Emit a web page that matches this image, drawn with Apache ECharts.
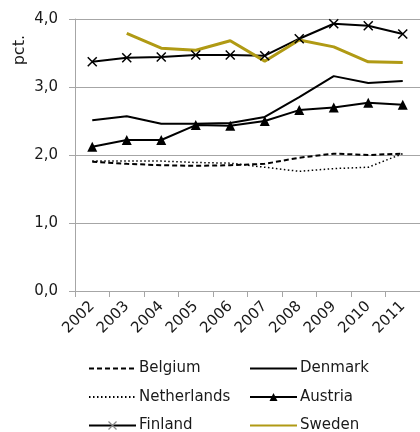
<!DOCTYPE html>
<html>
<head>
<meta charset="utf-8">
<script src="https://cdn.jsdelivr.net/npm/echarts@6/dist/echarts.min.js"></script>
<style>
  html, body { margin: 0; padding: 0; background: #fff; }
  #chart { width: 420px; height: 432px; }
</style>
</head>
<body>
<div id="chart"></div>
<script>
// år og værdier
const years = ['2002', '2003', '2004', '2005', '2006', '2007', '2008', '2009', '2010', '2011'];
const belgium = [1.90, 1.87, 1.85, 1.84, 1.85, 1.87, 1.96, 2.02, 2.00, 2.02];
const denmark = [2.51, 2.57, 2.46, 2.46, 2.47, 2.56, 2.85, 3.16, 3.06, 3.09];
const netherlands = [1.91, 1.91, 1.91, 1.89, 1.88, 1.82, 1.76, 1.80, 1.82, 2.02];
const austria = [2.12, 2.22, 2.22, 2.44, 2.43, 2.50, 2.66, 2.70, 2.77, 2.74];
const finland = [3.37, 3.43, 3.44, 3.47, 3.47, 3.46, 3.71, 3.93, 3.90, 3.78];
const sweden = [null, 3.79, 3.57, 3.54, 3.68, 3.38, 3.69, 3.59, 3.37, 3.36];
const yTicks = [0, 1, 2, 3, 4];

const font = 'DejaVu Sans, Verdana, sans-serif';
const xMark = 'path://M0,0L10,10M10,0L0,10';

const chart = echarts.init(document.getElementById('chart'));

function line(name, data, extra) {
    return Object.assign({
        name: name,
        type: 'line',
        data: data,
        symbol: 'none',
        connectNulls: false,
        color: '#000',
        lineStyle: { color: '#000', width: 2 }
    }, extra);
}

// legend-ikoner: kun linje, undtagen Austria/Finland
const noMark = { opacity: 0 };
const legendText = { color: '#1a1a1a', fontSize: 15, fontFamily: font, padding: [0, 0, 0, -2] };

const option = {
    animation: false,
    grid: { left: 75, right: 0, top: 19, bottom: 141 },
    xAxis: {
        type: 'category',
        data: years,
        boundaryGap: true,
        axisLine: { lineStyle: { color: '#a6a6a6' } },
        axisTick: { show: true, alignWithLabel: false, length: 6, lineStyle: { color: '#a6a6a6' } },
        axisLabel: { rotate: 45, margin: 13, color: '#1a1a1a', fontSize: 15, fontFamily: font, interval: 0 },
        splitLine: { show: false }
    },
    yAxis: {
        type: 'value',
        min: yTicks[0],
        max: yTicks[yTicks.length - 1],
        interval: 1,
        axisLine: { show: true, lineStyle: { color: '#a6a6a6' } },
        axisTick: { show: true, length: 6, lineStyle: { color: '#a6a6a6' } },
        axisLabel: {
            color: '#1a1a1a', fontSize: 15, fontFamily: font, margin: 17,
            formatter: v => v.toFixed(1).replace('.', ',')
        },
        splitLine: { lineStyle: { color: '#a6a6a6', width: 1 } }
    },
    graphic: [{
        type: 'text',
        left: 12, top: 35,
        rotation: Math.PI / 2,
        style: { text: 'pct.', fill: '#1a1a1a', font: '16px ' + font }
    }],
    legend: [{
        data: [
            { name: 'Belgium', itemStyle: noMark },
            { name: 'Netherlands', itemStyle: noMark },
            { name: 'Finland', itemStyle: { color: '#888', borderColor: '#888', borderWidth: 1.2 } }
        ],
        orient: 'vertical',
        left: 88, top: 361, height: 120, padding: 0,
        itemWidth: 47, itemHeight: 10, itemGap: 13.5,
        textStyle: legendText
    }, {
        data: [
            { name: 'Denmark', itemStyle: noMark },
            { name: 'Austria' },
            { name: 'Sweden', itemStyle: noMark }
        ],
        orient: 'vertical',
        left: 249, top: 361, height: 120, padding: 0,
        itemWidth: 47, itemHeight: 10, itemGap: 13.5,
        textStyle: legendText
    }],
    series: [
        line('Belgium', belgium, { lineStyle: { color: '#000', width: 2, type: [5, 3] } }),
        line('Denmark', denmark),
        line('Netherlands', netherlands, { lineStyle: { color: '#000', width: 1.5, type: [1.5, 2.5] } }),
        line('Austria', austria, { symbol: 'triangle', symbolSize: 10, showSymbol: true, itemStyle: { color: '#000' } }),
        line('Finland', finland, {
            symbol: xMark, symbolSize: 9, showSymbol: true,
            itemStyle: { color: '#000', borderColor: '#000', borderWidth: 1.5 }
        }),
        line('Sweden', sweden, { color: '#b09a14', lineStyle: { color: '#b09a14', width: 3 } })
    ]
};

chart.setOption(option);
</script>
</body>
</html>
